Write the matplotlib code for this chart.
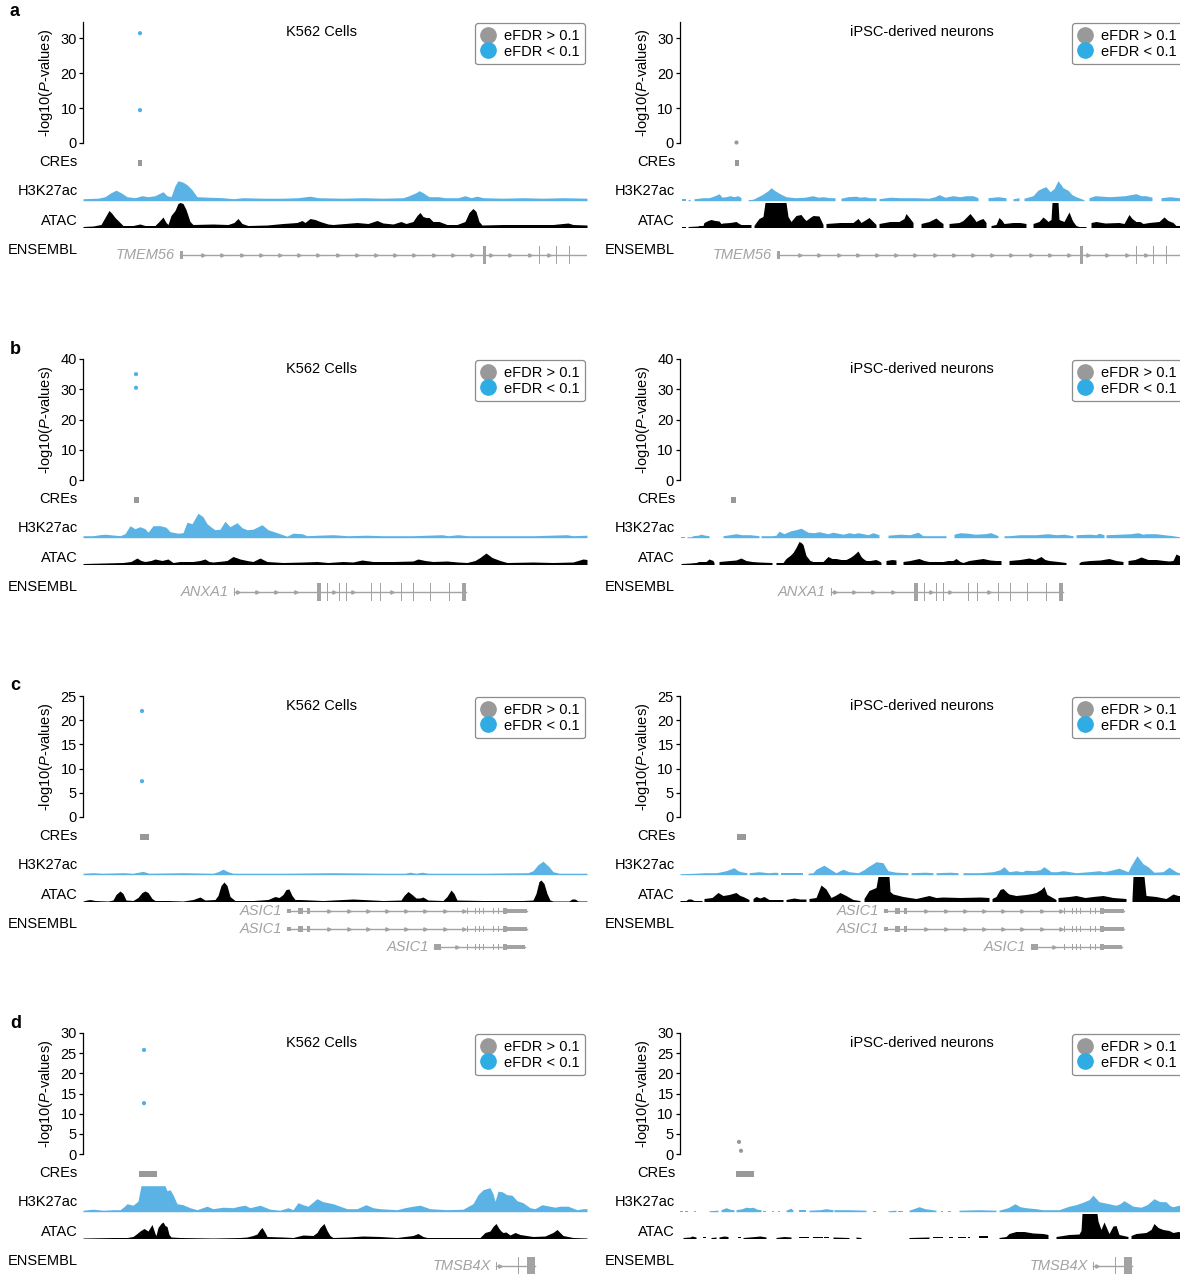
import numpy as np
import matplotlib.pyplot as plt
from matplotlib.lines import Line2D
from matplotlib.patches import Rectangle

plt.rcParams['font.family'] = ['Liberation Sans', 'DejaVu Sans']
plt.rcParams['mathtext.fontset'] = 'custom'
plt.rcParams['mathtext.rm'] = 'Liberation Sans'
plt.rcParams['mathtext.it'] = 'Liberation Sans:italic'

W, H = 1180, 1274
nan = np.nan

panel_letters = ['a', 'b', 'c', 'd']
cell_types = ['K562 Cells', 'iPSC-derived neurons']
y_top = [34.6, 40, 25, 30]
y_ticks = [[0, 10, 20, 30], [0, 10, 20, 30, 40],
           [0, 5, 10, 15, 20, 25], [0, 5, 10, 15, 20, 25, 30]]

# screen hits: (position, -log10 P, eFDR < 0.1)
hits_a_k562 = [(57, 31.4, 1), (57, 9.4, 1)]
hits_a_ipsc = [(56, 0.3, 0)]
hits_b_k562 = [(53, 35.0, 1), (53, 30.5, 1)]
hits_b_ipsc = []
hits_c_k562 = [(59, 21.9, 1), (59, 7.4, 1)]
hits_c_ipsc = []
hits_d_k562 = [(61, 25.8, 1), (61, 12.6, 1)]
hits_d_ipsc = [(59, 3.0, 0), (61, 0.8, 0)]

# targeted CREs (start, end)
cre_a = (55.3, 58.7)
cre_b = (51, 56)
cre_c = (57, 66)
cre_d = (56, 74)

# signal tracks: (position, signal) ; nan = no coverage
h3_a_k562 = [(0, 2), (15, 2.5), (22, 4), (28, 8), (33, 10.5), (38, 8), (44, 4), (52, 3), (59, 5), (65, 4),
             (72, 5), (80, 9), (84, 5), (88, 4), (92, 15), (95, 20), (100, 18.5), (104, 16), (109, 11),
             (114, 4), (125, 3.5), (140, 3), (150, 2), (160, 3), (180, 2.5), (200, 2.5), (215, 3),
             (227, 4.5), (235, 3), (260, 2.5), (280, 3), (300, 2.5), (320, 3), (326, 5), (333, 8),
             (336, 10), (340, 8), (346, 4), (355, 4), (362, 3), (375, 3), (382, 5), (388, 3), (394, 4.5),
             (400, 3), (420, 2.5), (440, 3), (460, 2.5), (480, 3), (504, 2.5)]
atac_a_k562 = [(0, 1), (10, 1.5), (18, 3), (22, 10), (26, 17), (29, 14), (32, 10), (36, 6), (40, 2), (50, 2),
               (57, 3.5), (62, 2), (72, 2), (76, 6), (80, 10.5), (83, 5), (85, 3), (88, 12), (92, 17),
               (95, 24), (97, 25), (100, 24), (103, 18), (107, 6), (110, 3), (130, 3.5), (145, 3),
               (151, 5), (155, 9), (159, 4), (165, 2), (184, 2.5), (200, 4), (214, 5), (219, 7), (222, 5),
               (227, 9), (232, 8), (237, 6), (245, 3.5), (250, 3), (274, 5), (285, 4), (294, 7),
               (300, 4.5), (310, 3.5), (318, 6), (323, 4), (330, 6), (334, 12), (337, 15), (340, 11),
               (343, 10), (346, 10), (350, 6), (356, 6), (364, 3), (374, 3), (382, 6), (386, 15),
               (390, 19), (393, 16), (396, 6), (399, 2.5), (420, 3), (450, 3), (470, 3), (485, 4.5),
               (490, 3), (504, 2.5)]
h3_a_ipsc = [(2, 1.5), (6, 1.5), (7, nan), (8, 1), (10, 1.5), (12, nan), (14, 2), (19, 2.5), (23, 3), (29, 3),
             (35, 5), (39, 7), (42, 3.5), (46, 4), (50, 5), (54, 4), (58, 5), (61, 3), (63, nan), (68, 1),
             (73, 1.5), (76, 3), (82, 6), (88, 10), (91, 13), (95, 10), (100, 7), (106, 4), (115, 3),
             (125, 3.5), (133, 5), (138, 3.5), (143, 4), (150, 3), (155, 3), (156, nan), (161, 2.5),
             (168, 4), (176, 4.5), (180, 3.5), (184, 4), (190, 3), (196, 3), (197, nan), (199, 2),
             (210, 3.5), (220, 3), (235, 3), (249, 2.5), (255, 4), (259, 6), (265, 3.5), (273, 5),
             (280, 4), (286, 5), (293, 5), (298, 3), (303, nan), (308, 3), (318, 4), (326, 3), (330, nan),
             (333, 2), (339, 3), (341, nan), (344, 2.5), (353, 5), (358, 10.5), (363, 13), (366, 14),
             (370, 9), (374, 12), (378, 20), (381, 16), (383, 13), (388, 10.5), (392, 6), (396, 4),
             (404, 1), (406, nan), (409, 3), (415, 5), (430, 4), (445, 5), (456, 7), (461, 5), (466, 5),
             (472, 3.5), (478, nan), (481, 3), (490, 4), (499, 3), (504, 3)]
atac_a_ipsc = [(2, 1), (6, 1), (7, nan), (8, 1), (18, 1.5), (19, 2), (23, 2), (24, 5), (28, 7), (31, 8),
               (35, 7), (39, 6.5), (41, 4), (43, 4.5), (50, 5), (56, 6), (59, 4), (61, 3), (71, 3),
               (72, nan), (74, 2), (76, 5), (79, 9), (83, 11), (85, 25), (106, 25), (108, 11), (111, 6),
               (116, 12), (121, 13), (124, 9), (126, 7), (130, 10), (133, 12), (139, 11.5), (143, 3),
               (144, nan), (146, 4), (160, 5), (173, 5), (178, 9), (181, 5), (186, 8), (189, 10), (194, 5),
               (196, 3), (198, nan), (199, 4), (210, 6), (219, 6), (224, 9), (226, 14), (230, 9), (233, 5),
               (237, nan), (241, 4), (249, 6), (253, 8), (256, 9.5), (260, 6), (263, 4), (268, nan),
               (269, 4), (279, 5), (283, 7), (287, 11), (290, 14), (294, 9), (296, 6), (300, 8), (303, 9),
               (306, 5), (308, nan), (311, 2), (316, 3), (319, 10), (322, 7), (324, 4), (333, 5), (340, 5),
               (346, 4), (349, nan), (353, 4), (359, 6), (363, 10.5), (366, 8), (368, 6), (371, 8),
               (372, 25), (378, 25), (379, 8), (384, 6), (389, 15.5), (392, 8), (393, 6), (396, 2),
               (399, 1), (406, 1), (408, nan), (411, 5), (416, 6), (425, 4.5), (439, 5), (444, 4),
               (449, 13), (452, 9), (456, 6), (460, 6), (463, 4), (469, 5), (479, 6), (484, 10.5),
               (488, 7), (493, 5), (496, 2), (504, 2)]

h3_b_k562 = [(0, 2), (10, 2), (17, 3), (22, 3.5), (27, 3), (37, 2), (42, 4), (47, 12), (52, 9), (57, 11),
             (62, 9), (65, 5.5), (70, 12), (77, 12), (83, 10.5), (87, 6), (95, 4.5), (100, 5), (104, 15.5),
             (109, 14), (115, 24.5), (120, 21), (124, 14), (129, 10), (132, 8), (137, 8.5), (142, 16.5),
             (147, 11), (154, 15), (159, 10), (164, 8), (170, 8.5), (179, 13), (185, 8), (194, 5),
             (204, 1.5), (210, 4.5), (219, 4), (224, 2), (235, 2.5), (250, 3), (265, 2), (284, 2.5),
             (300, 2), (330, 2), (359, 3), (365, 2), (375, 3), (385, 2), (420, 2), (450, 2), (484, 3),
             (490, 2), (504, 2.5)]
atac_b_k562 = [(0, 1), (20, 1.5), (40, 2), (48, 3), (54, 6.5), (58, 4), (62, 3), (68, 4), (72, 5.5), (79, 4),
               (85, 5.5), (90, 2), (97, 3), (110, 3), (117, 4), (122, 5.5), (126, 3), (130, 2.5), (140, 3.5),
               (144, 4), (150, 8), (153, 7), (157, 5.5), (164, 4), (170, 3), (177, 6.5), (184, 3), (200, 2),
               (220, 2.5), (234, 3), (245, 2), (260, 3), (270, 2.5), (279, 4.5), (290, 3), (310, 3),
               (330, 3.5), (335, 5.5), (342, 4), (350, 3), (364, 3.5), (375, 2.5), (384, 2), (392, 4),
               (397, 7), (403, 11.5), (409, 7), (417, 4), (424, 2), (450, 2.5), (470, 2), (490, 2.5),
               (500, 5.5), (504, 5)]
h3_b_ipsc = [(1, 1), (5, 1), (6, nan), (7, 1), (11, 1), (13, 2), (18, 2.5), (21, 3.5), (25, 2.5), (29, 2),
             (30, nan), (43, 2), (50, 3), (56, 4), (62, 3), (70, 3), (79, 2), (80, nan), (81, 2), (92, 2),
             (96, 2.5), (99, 6.5), (104, 4), (111, 7), (116, 8), (121, 9.5), (128, 5.5), (134, 5), (139, 6),
             (148, 4), (153, 5.5), (163, 3.5), (169, 5), (174, 4), (178, 5), (188, 3), (193, 5), (199, 3),
             (204, nan), (208, 2.5), (220, 3.5), (230, 3), (238, 5.5), (243, 2), (249, 2), (266, 2),
             (267, nan), (274, 3.5), (280, 5), (288, 4.5), (295, 3.5), (305, 4), (311, 5), (318, 2),
             (320, nan), (324, 2), (329, 2), (340, 3), (356, 3), (362, 3.5), (368, 4), (376, 3),
             (384, 3.5), (393, 2), (394, nan), (396, 3), (410, 3.5), (416, 3), (419, 4.5), (424, 3),
             (425, nan), (426, 3), (440, 3.5), (451, 4), (458, 5), (463, 3.5), (466, 4), (476, 4),
             (484, 3), (493, 2), (499, 1), (504, 1)]
atac_b_ipsc = [(1, 1), (10, 1.5), (16, 2), (19, 3), (26, 3), (29, 5.5), (33, 4), (34, 2), (36, nan), (39, 3),
               (50, 4), (56, 4.5), (61, 6.5), (66, 4), (72, 3), (79, 2.5), (92, 2), (94, nan), (96, 2),
               (103, 2), (106, 6), (110, 9), (113, 12), (116, 17), (119, 23), (121, 22), (123, 20), (126, 9),
               (130, 4), (133, 3), (143, 3), (148, 8), (152, 6), (156, 6), (161, 5), (166, 5), (170, 7),
               (173, 9), (178, 13.5), (181, 8), (183, 6), (186, 4), (190, 4), (196, 5), (200, 3), (201, 2),
               (203, nan), (206, 4), (212, 5), (216, 4.5), (218, nan), (223, 3), (230, 4), (239, 6),
               (244, 4), (249, 3), (256, 3), (263, 3), (268, 4), (273, 4), (276, 6), (280, 3), (283, 2),
               (289, 4), (296, 5), (303, 6), (310, 4.5), (316, 4), (321, 4), (322, nan), (329, 4), (340, 5),
               (349, 6.5), (355, 5), (361, 8), (365, 5), (369, 4), (378, 3), (386, 2), (388, nan),
               (399, 1.5), (401, 3), (410, 4), (420, 4.5), (429, 6), (436, 4), (443, 3), (445, nan),
               (448, 4), (455, 5), (461, 7.5), (468, 5), (476, 5), (484, 4), (489, 3.5), (493, 4),
               (496, 10.5), (499, 9), (504, 8)]

h3_c_k562 = [(0, 1.5), (10, 2), (20, 1.5), (40, 2), (50, 1.5), (60, 3.3), (66, 1.5), (100, 2), (130, 1.5),
             (135, 3), (140, 5.5), (145, 3), (150, 1.5), (200, 1.5), (250, 2), (300, 1.5), (322, 1.5),
             (327, 2.5), (333, 1.5), (339, 2.5), (345, 1.5), (400, 1.5), (445, 2), (450, 4), (455, 10),
             (460, 13.5), (466, 8), (470, 3), (476, 1.5), (504, 1.5)]
atac_c_k562 = [(0, 0.5), (4, 1.5), (7, 2), (12, 1), (25, 0.5), (30, 1.5), (33, 7), (37, 10.5), (40, 8),
               (43, 1.5), (50, 1), (55, 4), (59, 9), (62, 10.5), (65, 9), (69, 3), (72, 1), (85, 1),
               (100, 0.5), (110, 2), (117, 4.5), (122, 1.5), (132, 2), (135, 6), (138, 16), (141, 19.5),
               (144, 16), (147, 5), (152, 1), (170, 1), (185, 2), (192, 5), (196, 4), (200, 7), (203, 12),
               (206, 12.5), (209, 6), (212, 2), (217, 2), (240, 1), (260, 2), (270, 2.5), (280, 2),
               (300, 1), (318, 1.5), (321, 6), (325, 10), (329, 7), (333, 3.5), (337, 3.5), (340, 4.5),
               (345, 1.5), (360, 1), (364, 5), (368, 11.5), (371, 8), (374, 1.5), (400, 1), (440, 1),
               (450, 1.5), (453, 8), (456, 20), (458, 21.5), (461, 18), (464, 8), (467, 1.5), (470, 0.5),
               (486, 0.5), (489, 2.5), (492, 2.5), (495, 0.5), (504, 0.5)]
h3_c_ipsc = [(0, 1), (16, 1.5), (25, 2), (36, 2), (39, 2.5), (46, 4), (54, 7), (58, 4), (61, 3), (67, 2),
             (68, nan), (69, 2), (79, 3), (88, 2), (96, 2.5), (98, 2), (99, nan), (101, 1.5), (123, 1.5),
             (124, nan), (128, 1.5), (133, 2), (136, 5.5), (144, 9.5), (148, 7), (151, 5), (156, 2),
             (163, 5.5), (169, 3), (178, 2), (184, 5), (188, 8), (193, 11), (196, 13), (203, 12), (206, 7),
             (208, 4), (216, 2.5), (228, 2), (229, nan), (231, 2), (245, 2.5), (253, 2), (254, nan),
             (256, 2), (270, 2.5), (278, 2), (279, nan), (283, 2), (300, 2), (313, 3), (320, 5), (324, 8),
             (329, 3), (336, 4), (342, 3), (346, 4.5), (354, 4), (360, 5), (364, 8), (371, 3), (377, 3),
             (383, 4), (390, 3), (396, 2), (409, 3), (419, 4), (424, 3), (429, 4), (439, 6.5), (448, 3),
             (451, 9), (457, 19), (463, 11), (468, 8), (474, 2.5), (483, 3), (489, 7.5), (496, 3),
             (499, 2), (504, 2)]
atac_c_ipsc = [(0, 1), (6, 1), (8, 2.5), (11, 2.5), (14, 1), (22, 1), (23, nan), (24, 3), (32, 4), (38, 9),
               (43, 6), (49, 7), (56, 9), (60, 6), (63, 5), (69, 2), (71, nan), (73, 3), (76, 5), (80, 3.5),
               (84, 5), (89, 2), (103, 2), (104, nan), (106, 2), (114, 3.5), (120, 2.5), (126, 2.5),
               (127, nan), (129, 3), (136, 4), (141, 16.5), (146, 12.5), (151, 4), (156, 6.5), (160, 9),
               (166, 6), (173, 2), (180, 1), (181, nan), (184, 3), (189, 11), (196, 14), (198, 25),
               (209, 25), (210, 10), (213, 7.5), (223, 5), (236, 3), (249, 6), (256, 4), (263, 4.5),
               (280, 4), (300, 4.5), (309, 4), (310, nan), (312, 3), (316, 5), (320, 12), (323, 13),
               (327, 9), (329, 7.5), (336, 6), (346, 7), (352, 8), (356, 9), (361, 12), (364, 15),
               (367, 7), (369, 6), (376, 2), (377, nan), (378, 4), (389, 5), (396, 6), (405, 4), (413, 5),
               (423, 6), (433, 4), (446, 3), (449, nan), (452, 3), (453, 25), (464, 25), (466, 6),
               (476, 5), (486, 3), (493, 7.5), (498, 6), (504, 6)]

h3_d_k562 = [(0, 1.5), (10, 2.5), (20, 1.5), (30, 2), (37, 2), (41, 5), (44, 8), (50, 6.5), (55, 10.5),
             (58, 26), (82, 26), (84, 21), (87, 22), (90, 17), (94, 8), (100, 7), (107, 4), (114, 2),
             (124, 5.5), (130, 3), (140, 4.5), (150, 4), (156, 5.5), (162, 6.5), (167, 4), (177, 6.5),
             (187, 2.5), (197, 1.5), (205, 4), (210, 2), (215, 9), (220, 7), (225, 5.5), (234, 13),
             (240, 10), (250, 8), (257, 5.5), (264, 3), (274, 3), (283, 7), (290, 4), (297, 3), (314, 2),
             (322, 4), (330, 5.5), (337, 6.5), (347, 3), (364, 2), (380, 2.5), (390, 8), (395, 17),
             (400, 22), (407, 24), (410, 18), (412, 10.5), (415, 20.5), (419, 20), (424, 17), (429, 16.5),
             (434, 11), (440, 9), (447, 4), (452, 3), (459, 7), (467, 5.5), (472, 4.5), (477, 5.5),
             (485, 5.5), (494, 2), (500, 3), (504, 3)]
atac_d_k562 = [(0, 0.5), (30, 1), (44, 1), (50, 2), (54, 5), (57, 7.5), (61, 10), (65, 7.5), (69, 14),
               (72, 5), (73, 3), (75, 11), (78, 15), (80, 16.5), (82, 13), (84, 12), (86, 4), (88, 1.5),
               (97, 1), (130, 0.5), (157, 1), (164, 1.5), (170, 3), (174, 4.5), (177, 9), (179, 11),
               (182, 6), (184, 2), (200, 1.5), (210, 1), (220, 3.5), (230, 3), (234, 6), (237, 11),
               (241, 15), (244, 8), (247, 3), (250, 1), (265, 1.5), (280, 2.5), (297, 2), (314, 1),
               (330, 3), (335, 5), (340, 2), (344, 1), (397, 1), (402, 6), (407, 7.5), (410, 12),
               (413, 15), (416, 10), (418, 7.5), (420, 6), (423, 6.5), (427, 3.5), (432, 6), (437, 4),
               (450, 2), (462, 2.5), (470, 6), (474, 9), (477, 6), (480, 3), (490, 1), (504, 0.5)]
h3_d_ipsc = [(0, 1), (3, 1), (3.5, nan), (5, 1), (8, 1), (9, nan), (14, 1), (16, 1), (17, nan), (29, 1),
             (38, 1.5), (39, nan), (41, 2), (46, 4), (50, 2.5), (54, 2), (55, nan), (56, 2), (62, 3),
             (66, 4.5), (70, 4), (73, 4.5), (77, 2.5), (81, 2), (82, nan), (83, 1), (86, 1), (87, nan),
             (92, 1), (94, 1), (95, nan), (98, 1), (100, 1), (101, nan), (106, 1.5), (111, 3.5),
             (113, 1.5), (114, nan), (119, 1.5), (126, 1.5), (127, nan), (129, 1.5), (140, 2), (146, 3),
             (153, 2), (153.5, nan), (154, 2), (170, 2), (186, 1.5), (187, nan), (193, 1), (196, 1),
             (197, nan), (208, 1), (216, 1.5), (217, nan), (218, 1), (223, 1), (224, nan), (229, 1.5),
             (235, 3.5), (239, 5), (245, 3), (256, 1.5), (257, nan), (261, 1), (263, 1), (264, nan),
             (268, 1), (271, 1), (272, nan), (279, 1.5), (300, 2), (316, 1.5), (317, nan), (319, 1.5),
             (328, 4), (335, 8), (340, 5), (346, 4), (356, 3), (363, 2), (379, 2), (389, 5.5), (396, 7),
             (403, 9.5), (409, 12), (413, 16.5), (419, 10), (424, 9), (429, 8), (433, 7), (436, 6.5),
             (440, 8), (444, 11), (449, 8), (453, 5.5), (461, 4.5), (467, 7), (474, 13), (480, 10),
             (486, 10), (490, 6), (493, 5), (499, 6.5), (504, 5)]
atac_d_ipsc = [(0, 0.5), (1, 0.5), (2, nan), (3, 1), (10, 1.5), (12, 2.5), (16, 1.5), (17, nan), (23, 1),
               (26, 1), (27, nan), (31, 1), (36, 1.5), (37, nan), (39, 1.5), (44, 2.5), (48, 2), (49, nan),
               (58, 1), (61, 1), (62, nan), (63, 1), (75, 2), (80, 2.5), (86, 1.5), (87, nan), (96, 1),
               (104, 2), (111, 1.5), (112, nan), (119, 1.5), (129, 1.5), (130, nan), (133, 1.5),
               (143, 1.5), (143.5, nan), (144, 1), (149, 1), (150, nan), (153, 1.5), (169, 1), (170, nan),
               (176, 1.5), (181, 1), (182, nan), (200, 0.8), (202, 0.8), (203, nan), (218, 0.8),
               (220, 0.8), (221, nan), (229, 1), (249, 1.5), (250, nan), (253, 1), (263, 1), (264, nan),
               (269, 1), (273, 1), (274, nan), (278, 1.5), (286, 1.5), (287, nan), (288, 1), (290, 1),
               (291, nan), (299, 2), (308, 2), (309, nan), (319, 1), (326, 2), (329, 5), (336, 7),
               (344, 7), (353, 5.5), (363, 5), (368, 4), (369, nan), (376, 2), (389, 4), (399, 4.5),
               (401, 8), (402, 25), (417, 25), (418, 17.5), (421, 9), (424, 16.5), (429, 5), (433, 12.5),
               (436, 13), (439, 4), (448, 2), (449, nan), (451, 3), (456, 5), (466, 6), (471, 9),
               (474, 15), (478, 11), (483, 9), (489, 8), (493, 6), (498, 7), (504, 6)]

# ENSEMBL transcripts: (name, start, end, exons as (start, end, coding))
genes_a = [('TMEM56', 97, 504, [(97, 100, 0), (400, 403, 1), (455.5, 456.5, 1), (472.5, 473.5, 1),
                                (485.5, 486.5, 1)])]
genes_b = [('ANXA1', 151, 383, [(150.5, 151.5, 0), (234, 238, 1), (243.5, 244.5, 1), (255.5, 256.5, 1),
                                (262.5, 263.5, 1), (287.5, 288.5, 1), (296.5, 297.5, 1), (317.5, 318.5, 1),
                                (329.5, 330.5, 1), (346.5, 347.5, 1), (365.5, 366.5, 1), (379, 383, 1)])]
asic1_tail = [(384, 385, 1), (392, 393, 1), (396, 397, 1), (400, 401, 1), (409.5, 410.5, 1),
              (414.5, 415.5, 1), (420, 424, 1)]
genes_c = [('ASIC1', 204, 444, [(204, 208, 0), (215, 220, 1), (224, 227, 1)] + asic1_tail + [(424, 444, 0)]),
           ('ASIC1', 204, 444, [(204, 208, 0), (215, 220, 1), (224, 227, 1)] + asic1_tail + [(424, 444, 0)]),
           ('ASIC1', 351, 442, [(351, 358, 1)] + asic1_tail + [(424, 442, 0)])]
genes_d = [('TMSB4X', 413, 452, [(412.5, 413.5, 0), (434.5, 435.5, 1), (444, 452, 1)])]

# assemble per row
hits = [[hits_a_k562, hits_a_ipsc], [hits_b_k562, hits_b_ipsc],
        [hits_c_k562, hits_c_ipsc], [hits_d_k562, hits_d_ipsc]]
cres = [cre_a, cre_b, cre_c, cre_d]
h3 = [[h3_a_k562, h3_a_ipsc], [h3_b_k562, h3_b_ipsc], [h3_c_k562, h3_c_ipsc], [h3_d_k562, h3_d_ipsc]]
atac = [[atac_a_k562, atac_a_ipsc], [atac_b_k562, atac_b_ipsc],
        [atac_c_k562, atac_c_ipsc], [atac_d_k562, atac_d_ipsc]]
genes = [genes_a, genes_b, genes_c, genes_d]

BLUE_TRACK = '#5AB3E4'
BLUE_DOT = '#4FB0E6'
BLUE_LEG = '#2FACE4'
GRAY = '#999999'
GENE = '#A3A3A3'

fig = plt.figure(figsize=(W / 100, H / 100), dpi=100)


def box(x, y, w, h):
    return [x / W, 1 - (y + h) / H, w / W, h / H]


def ftext(x, y, s, **kw):
    fig.text(x / W, 1 - y / H, s, va='center', **kw)


def fill_track(ax, pts, color):
    arr = np.array(pts, dtype=float)
    x, y = arr[:, 0], arr[:, 1]
    idx = np.flatnonzero(~np.isnan(y))
    for seg in np.split(idx, np.flatnonzero(np.diff(idx) > 1) + 1):
        if len(seg) > 1:
            ax.fill_between(x[seg], 0, y[seg], color=color, lw=0)


def draw_genes(ax, tx_list):
    n = len(tx_list)
    cds_h, utr_h = (0.95, 0.45) if n == 1 else (0.36, 0.22)
    for i, (name, start, end, exons) in enumerate(tx_list):
        yc = i - (n - 1) / 2
        ax.plot([start, end], [yc, yc], color=GENE, lw=1)
        for s, e, cds in exons:
            h = cds_h if cds else utr_h
            ax.add_patch(Rectangle((s, yc - h / 2), max(e - s, 1.2), h, color=GENE, lw=0))
        arrows = [a for a in np.arange(start + 4, end, 19.2)
                  if all(a < s - 3 or a > e + 3 for s, e, _ in exons)]
        ax.plot(arrows, [yc] * len(arrows), ls='', marker='>', ms=2.4, color=GENE)
        ax.text(start - 5, yc, name, ha='right', va='center', style='italic',
                color=GENE, fontsize=10.5)


x_left = [83, 680]
title_x = [321, 922]
for r in range(4):
    dy = 337 * r
    ftext(10, 12 + dy, panel_letters[r], fontsize=13, fontweight='bold', ha='left')
    for c in range(2):
        x0 = x_left[c]
        # scatter of test statistics
        ax = fig.add_axes(box(x0, 22 + dy, 504, 121))
        ax.set_xlim(0, 504)
        ax.set_ylim(0, y_top[r])
        for sp in ['top', 'right', 'bottom']:
            ax.spines[sp].set_visible(False)
        ax.spines['left'].set_linewidth(0.9)
        ax.set_xticks([])
        ax.set_yticks(y_ticks[r])
        ax.tick_params(axis='y', labelsize=10.5, length=3, width=0.9, pad=1.5)
        ax.set_ylabel(r'-log10($\mathit{P}$-values)', fontsize=10.5, labelpad=4)
        pts = hits[r][c]
        if pts:
            px = [p[0] for p in pts]
            py = [p[1] for p in pts]
            pc = [BLUE_DOT if p[2] else GRAY for p in pts]
            ax.scatter(px, py, s=9, c=pc, lw=0, clip_on=False, zorder=3)
        handles = [Line2D([], [], ls='', marker='o', ms=11, color=GRAY, label='eFDR > 0.1'),
                   Line2D([], [], ls='', marker='o', ms=11, color=BLUE_LEG, label='eFDR < 0.1')]
        leg = ax.legend(handles=handles, loc='upper right', bbox_to_anchor=(1 - 2 / 504, 1 - 1 / 121),
                        borderaxespad=0, fontsize=10.5, handlelength=1.0, handletextpad=0.55,
                        borderpad=0.4, labelspacing=0.12, fancybox=True, framealpha=1,
                        edgecolor='#8c8c8c')
        leg.get_frame().set_linewidth(0.9)
        ftext(title_x[c], 32 + dy, cell_types[c], fontsize=10.5, ha='center')

        # CREs
        axc = fig.add_axes(box(x0, 155 + dy, 504, 16))
        axc.set_xlim(0, 504)
        axc.set_ylim(0, 1)
        axc.axis('off')
        s, e = cres[r]
        axc.broken_barh([(s, e - s)], (0.31, 0.38), color=GRAY, lw=0)

        # H3K27ac
        axh = fig.add_axes(box(x0, 175 + dy, 504, 25.7))
        axh.set_xlim(0, 504)
        axh.set_ylim(0, 25.7)
        axh.axis('off')
        fill_track(axh, h3[r][c], BLUE_TRACK)

        # ATAC
        axa = fig.add_axes(box(x0, 202 + dy, 504, 25.5))
        axa.set_xlim(0, 504)
        axa.set_ylim(0, 25.5)
        axa.axis('off')
        fill_track(axa, atac[r][c], 'black')

        # ENSEMBL
        axg = fig.add_axes(box(x0, 228 + dy, 504, 54))
        axg.set_xlim(0, 504)
        axg.set_ylim(1.5, -1.5)
        axg.axis('off')
        draw_genes(axg, genes[r])

        for lab, yy in [('CREs', 162), ('H3K27ac', 191), ('ATAC', 221), ('ENSEMBL', 250)]:
            ftext(x0 - 5, yy + dy, lab, fontsize=10.5, ha='right')

fig.savefig('out.png', dpi=100)
